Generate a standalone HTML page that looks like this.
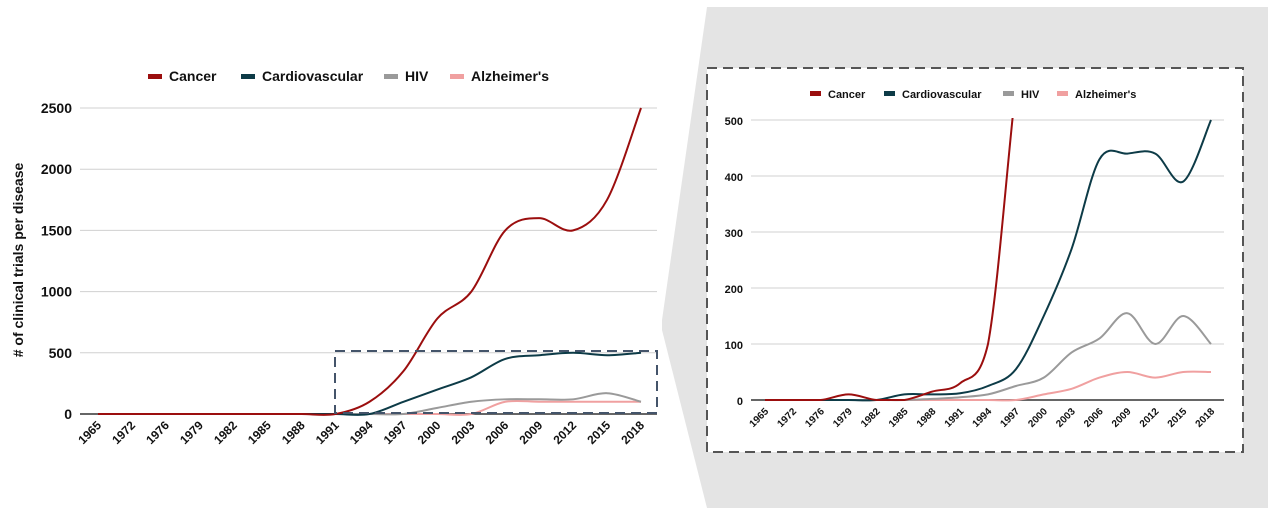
<!DOCTYPE html>
<html><head><meta charset="utf-8">
<style>
body{margin:0;background:#fff;width:1285px;height:514px;overflow:hidden;font-family:"Liberation Sans",sans-serif}
svg text{font-family:"Liberation Sans",sans-serif;font-weight:bold;fill:#111}
</style></head>
<body>
<svg id="s" width="1285" height="514">
  <polygon points="707,7 1268,7 1268,508 707,508 662,330 662,320" fill="#e4e4e4"/>
  <rect x="707" y="68" width="536" height="384" fill="#fff" stroke="#555" stroke-width="2" stroke-dasharray="10,6"/>
  <g id="left"></g>
  <g id="right"></g>
  <rect x="335" y="351" width="322" height="62" fill="none" stroke="#44546a" stroke-width="2" stroke-dasharray="10,6"/>
</svg>
<script>
const years=["1965","1972","1976","1979","1982","1985","1988","1991","1994","1997","2000","2003","2006","2009","2012","2015","2018"];
const seriesNames=["Cancer","Cardiovascular","HIV","Alzheimer's"];
const colors=["#9b0e0e","#0d3b47","#9a9a9a","#f0a0a0"];
const leftCancer=[0,0,0,0,0,0,0,0,100,350,780,1000,1500,1600,1500,1750,2500];
const leftCardio=[0,0,0,0,0,0,0,0,0,100,200,300,450,480,500,480,500];
const leftHIV=[0,0,0,0,0,0,0,0,0,0,50,100,120,120,120,170,100];
const leftAlz=[0,0,0,0,0,0,0,0,0,0,0,0,100,100,100,100,100];
const leftTicks=[0,500,1000,1500,2000,2500];
const rightCancer=[0,0,0,10,0,0,15,30,100,560,1000,1500,1600,1600,1500,1750,2500];
const rightCardio=[0,0,0,0,0,10,10,12,25,55,150,270,430,440,440,390,500];
const rightHIV=[0,0,0,0,0,0,2,5,10,25,40,85,110,155,100,150,100];
const rightAlz=[0,0,0,0,0,0,0,0,0,0,10,20,40,50,40,50,50];
const rightTicks=[0,100,200,300,400,500];
const NS="http://www.w3.org/2000/svg";
function mk(tag,attrs,parent){const e=document.createElementNS(NS,tag);for(const k in attrs)e.setAttribute(k,attrs[k]);parent.appendChild(e);return e;}
function smooth(pts,clamp){let d=`M${pts[0][0]},${pts[0][1]}`;for(let i=0;i<pts.length-1;i++){const p0=pts[Math.max(0,i-1)],p1=pts[i],p2=pts[i+1],p3=pts[Math.min(pts.length-1,i+2)];const t=6;
 let c1y=p1[1]+(p2[1]-p0[1])/t,c2y=p2[1]-(p3[1]-p1[1])/t;
 if(clamp){const lo=Math.min(p1[1],p2[1]),hi=Math.max(p1[1],p2[1]);c1y=Math.max(lo,Math.min(hi,c1y));c2y=Math.max(lo,Math.min(hi,c2y));}
 d+=` C${p1[0]+(p2[0]-p0[0])/t},${c1y} ${p2[0]-(p3[0]-p1[0])/t},${c2y} ${p2[0]},${p2[1]}`;}return d;}
function draw(g,cfg){
  const xs=i=>cfg.x0+i*(cfg.x1-cfg.x0)/(years.length-1);
  const ys=v=>cfg.yb-(v/cfg.ymax)*(cfg.yb-cfg.yt);
  cfg.ticks.forEach(t=>{
    const l=mk('line',{x1:cfg.gx0,x2:cfg.gx1,y1:ys(t),y2:ys(t),stroke:t===0?'#666':'#d0d0d0','stroke-width':t===0?2:1},g);
    
    
    const tx=mk('text',{x:cfg.gx0-8,y:ys(t)+5,'text-anchor':'end','font-size':cfg.fs},g);tx.textContent=t;
    
    
  });
  years.forEach((y,i)=>{
    const tx=mk('text',{transform:`translate(${xs(i)+4},${cfg.yb+12}) rotate(-45)`,'text-anchor':'end','font-size':cfg.xfs},g);tx.textContent=y;
    
    
  });
  const cid='clip'+cfg.id;
  const cp=mk('clipPath',{id:cid},g);mk('rect',{x:cfg.gx0,y:cfg.yt-2,width:cfg.gx1-cfg.gx0,height:cfg.yb-cfg.yt+4},cp);
  [3,2,1,0].forEach(k=>{
    const pts=cfg.data[k].map((v,i)=>[xs(i),ys(v)]);
    const p=mk('path',{d:smooth(pts,cfg.clampSeries===k),fill:'none',stroke:colors[k],'stroke-width':2,'clip-path':`url(#${cid})`},g);
    
    
  });
  cfg.legend.forEach((lx,k)=>{
    const m=mk('rect',{x:lx,y:cfg.ly-3,width:cfg.lm,height:5,fill:colors[k]},g);
    
    
    const tx=mk('text',{x:lx+cfg.lm+7,y:cfg.ly+4,'font-size':cfg.lfs},g);tx.textContent=seriesNames[k];
    
    
  });
}
draw(document.getElementById('left'),{id:'L',x0:98,x1:641,gx0:80,gx1:657,yt:108,yb:414,ymax:2500,ticks:leftTicks,fs:14,xfs:12,clampSeries:-1,
  data:[leftCancer,leftCardio,leftHIV,leftAlz],legend:[148,241,384,450],ly:77,lm:14,lfs:14});
draw(document.getElementById('right'),{id:'R',x0:765,x1:1211,gx0:751,gx1:1224,yt:120,yb:400,ymax:500,ticks:rightTicks,fs:11,xfs:10,clampSeries:0,
  data:[rightCancer,rightCardio,rightHIV,rightAlz],legend:[810,884,1003,1057],ly:94,lm:11,lfs:11});
const yt=mk('text',{transform:'translate(23,260) rotate(-90)','text-anchor':'middle','font-size':14},document.getElementById('s'));
yt.textContent='# of clinical trials per disease';


</script>
</body></html>
